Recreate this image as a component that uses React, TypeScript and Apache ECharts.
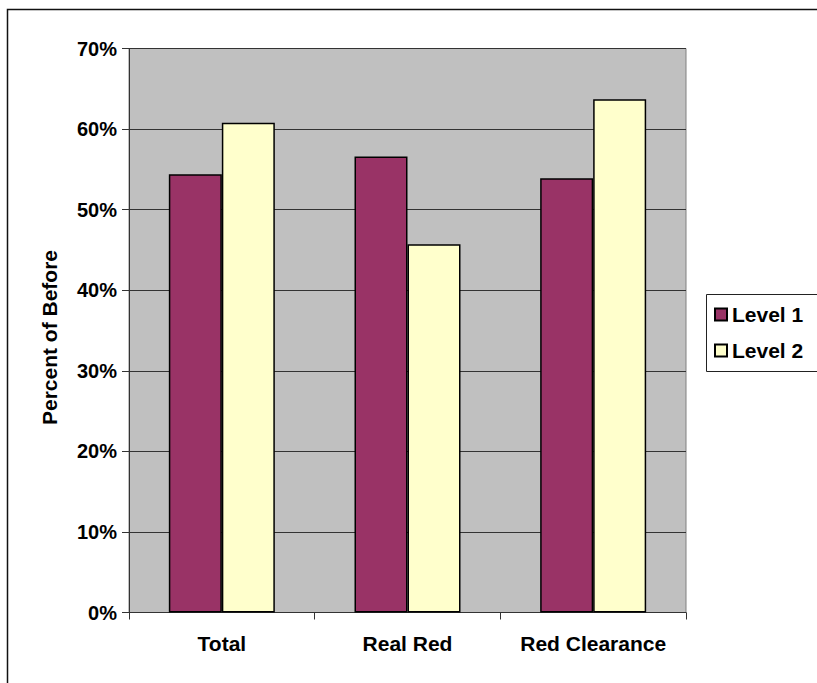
import React, { useEffect, useRef } from "react";
import * as echarts from "echarts";

const categories = ["Total", "Real Red", "Red Clearance"];
const level1 = [0.544, 0.566, 0.539];
const level2 = [0.608, 0.457, 0.637];
const seriesNames = ["Level 1", "Level 2"];
const yTicks = { min: 0, max: 0.7, interval: 0.1 };

const FONT = "'Liberation Sans', Arial, sans-serif";

export default function App() {
  const ref = useRef<HTMLDivElement>(null);
  useEffect(() => {
    if (!ref.current) return;
    const chart = echarts.init(ref.current, null, { renderer: "svg" });
    chart.setOption({
      animation: false,
      backgroundColor: "#ffffff",
      textStyle: { fontFamily: FONT },
      graphic: [
        {
          type: "rect",
          shape: { x: 7.5, y: 9.5, width: 1000, height: 1000 },
          style: { fill: "none", stroke: "#111", lineWidth: 1.5 },
          silent: true,
          z: 0,
        },
        {
          type: "rect",
          shape: { x: 706.5, y: 294.5, width: 200, height: 77 },
          style: { fill: "#ffffff", stroke: "#222", lineWidth: 1 },
          silent: true,
          z: 1,
        },
      ],
      grid: {
        left: 129,
        top: 48.5,
        right: 131,
        bottom: 70.5,
        show: true,
        backgroundColor: "#c0c0c0",
        borderColor: "#808080",
        borderWidth: 1,
      },
      legend: {
        orient: "vertical",
        left: 714,
        top: 304,
        padding: 0,
        itemWidth: 12,
        itemHeight: 12,
        itemGap: 15,
        itemTextGap: 10,
        z: 5,
        icon: "rect",
        textStyle: { fontFamily: FONT, fontSize: 21, fontWeight: "bold", color: "#000" },
        data: seriesNames,
      },
      xAxis: {
        type: "category",
        data: categories,
        axisLine: { lineStyle: { color: "#333", width: 1 } },
        axisTick: { show: true, length: 7, alignWithLabel: false, lineStyle: { color: "#333" } },
        axisLabel: {
          interval: 0,
          hideOverlap: false,
          fontFamily: FONT,
          fontSize: 21,
          fontWeight: "bold",
          color: "#000",
          margin: 20,
        },
      },
      yAxis: {
        type: "value",
        min: yTicks.min,
        max: yTicks.max,
        interval: yTicks.interval,
        name: "Percent of Before",
        nameLocation: "middle",
        nameGap: 69,
        nameTextStyle: {
          fontFamily: FONT,
          fontSize: 21,
          fontWeight: "bold",
          color: "#000",
          padding: [0, 14, 0, 0],
        },
        axisLine: { show: true, lineStyle: { color: "#333", width: 1 } },
        axisTick: { show: true, length: 7, lineStyle: { color: "#333" } },
        splitLine: { show: true, lineStyle: { color: "#333", width: 1 } },
        axisLabel: {
          fontFamily: FONT,
          fontSize: 20,
          fontWeight: "bold",
          color: "#000",
          margin: 12,
          formatter: (v: number) => `${Math.round(v * 100)}%`,
        },
      },
      series: [
        {
          name: seriesNames[0],
          type: "bar",
          data: level1,
          barWidth: 53,
          barGap: "0%",
          itemStyle: { color: "#993366", borderColor: "#000", borderWidth: 1.5 },
        },
        {
          name: seriesNames[1],
          type: "bar",
          data: level2,
          barWidth: 53,
          barGap: "0%",
          itemStyle: { color: "#ffffcc", borderColor: "#000", borderWidth: 1.5 },
        },
      ],
    });
    return () => chart.dispose();
  }, []);
  return (
    <div
      ref={ref}
      style={{ position: "fixed", left: 0, top: 0, width: 817, height: 683 }}
    />
  );
}
